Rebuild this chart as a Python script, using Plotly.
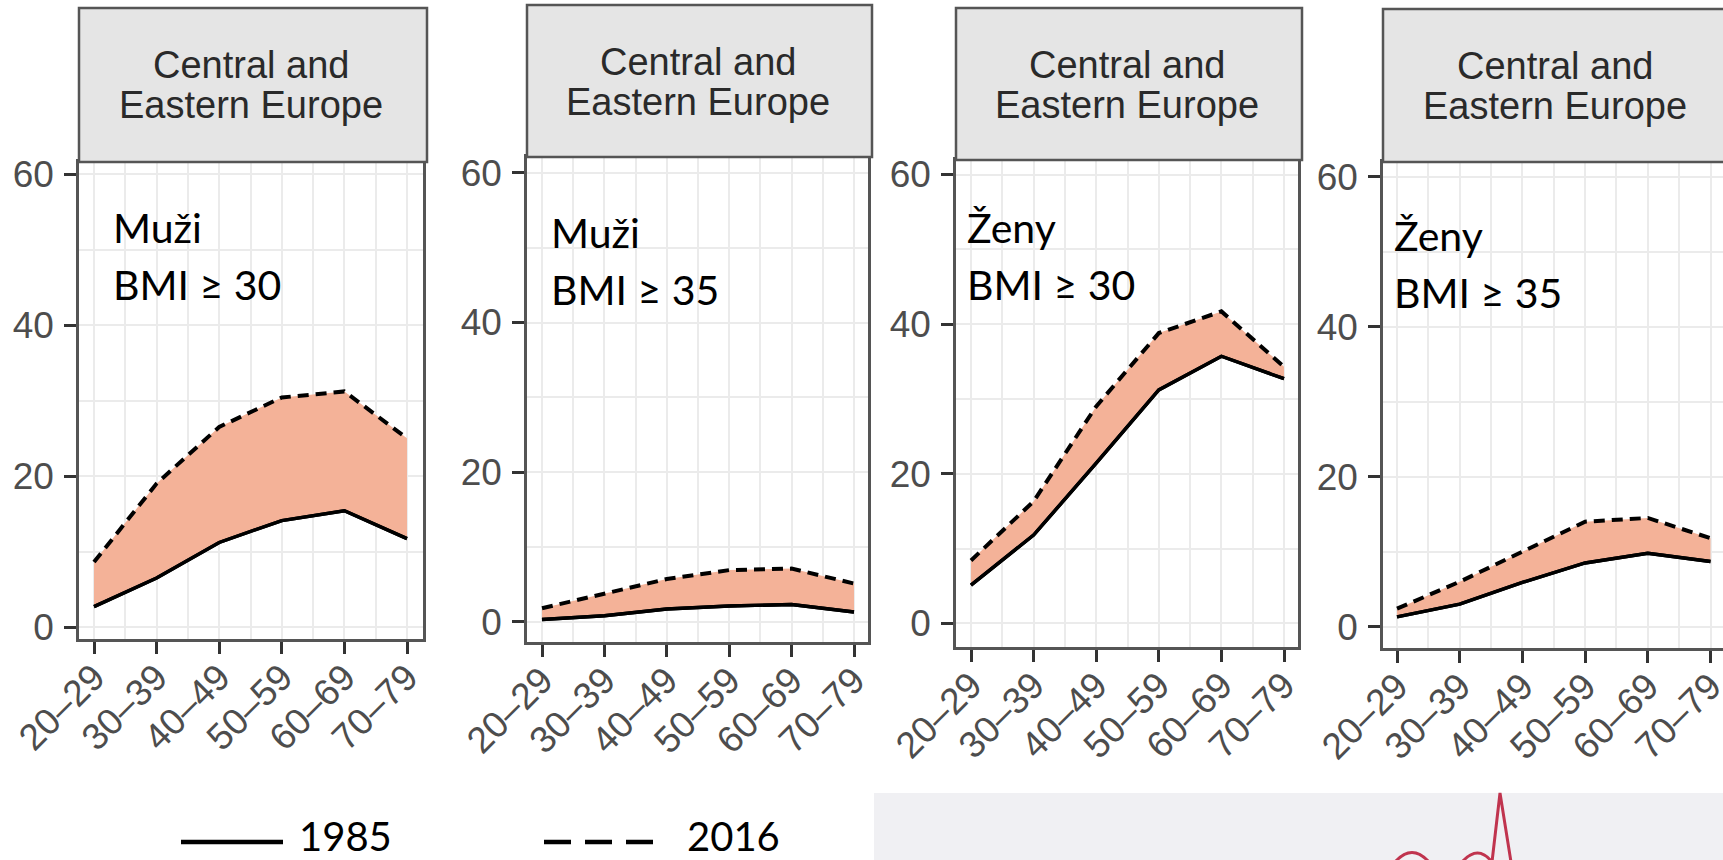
import plotly.graph_objects as go

# Age groups and obesity prevalence (%) in Central and Eastern Europe
age_groups = ["20–29", "30–39", "40–49", "50–59", "60–69", "70–79"]

men_bmi30_1985 = [2.7, 6.5, 11.2, 14.1, 15.4, 11.7]
men_bmi30_2016 = [8.6, 19.0, 26.5, 30.4, 31.2, 25.0]

men_bmi35_1985 = [0.3, 0.8, 1.7, 2.1, 2.3, 1.3]
men_bmi35_2016 = [1.8, 3.8, 5.7, 6.9, 7.1, 5.1]

women_bmi30_1985 = [5.1, 11.8, 21.4, 31.2, 35.7, 32.7]
women_bmi30_2016 = [8.4, 16.3, 29.0, 38.8, 41.7, 34.3]

women_bmi35_1985 = [1.3, 3.0, 5.9, 8.5, 9.8, 8.7]
women_bmi35_2016 = [2.4, 6.0, 10.0, 14.0, 14.5, 11.8]

strip_title = ["Central and", "Eastern Europe"]
panel_labels = [("Muži", "BMI ≥ 30"), ("Muži", "BMI ≥ 35"),
                ("Ženy", "BMI ≥ 30"), ("Ženy", "BMI ≥ 35")]
y_ticks = [0, 20, 40, 60]
legend_years = ["1985", "2016"]

series = [
    (men_bmi30_1985, men_bmi30_2016),
    (men_bmi35_1985, men_bmi35_2016),
    (women_bmi30_1985, women_bmi30_2016),
    (women_bmi35_1985, women_bmi35_2016),
]

W, H = 1723, 860

# Panel geometry in pixels: plot left/right, strip top, plot top/bottom,
# x pixel of first category, px per category, y pixel of 0, px per unit
panels = [
    dict(l=79, r=423, st=8, t=162, b=639, x0=94.0, dx=62.6, y0=627.0, dy=7.55),
    dict(l=527, r=868, st=5, t=157, b=642, x0=542.0, dx=62.4, y0=621.7, dy=7.48),
    dict(l=956, r=1298, st=8, t=160, b=647, x0=971.0, dx=62.6, y0=623.3, dy=7.48),
    dict(l=1383, r=1723, st=9, t=162, b=648, x0=1397.0, dx=62.7, y0=626.7, dy=7.5),
]
text_pos = [  # left x, baseline of first and second line
    (113, 241, 298),
    (551, 245, 303),
    (967, 241, 297),
    (1394, 248, 305),
]

FILL = "#f4b298"
BORDER = "#555555"
GRID = "#ebebeb"
TICKTXT = "#4d4d4d"


def px(x):
    return x / W


def py(y):
    return 1 - y / H


fig = go.Figure()
shapes = []
annotations = []
x_idx = list(range(len(age_groups)))

for i, (p, (s85, s16)) in enumerate(zip(panels, series)):
    n = "" if i == 0 else str(i + 1)
    xa, ya = "x" + n, "y" + n
    fig.add_trace(go.Scatter(x=x_idx, y=s85, mode="lines", xaxis=xa, yaxis=ya,
                             line=dict(color="black", width=3.4), showlegend=False,
                             hoverinfo="skip"))
    fig.add_trace(go.Scatter(x=x_idx, y=s16, mode="lines", xaxis=xa, yaxis=ya,
                             fill="tonexty", fillcolor=FILL,
                             line=dict(color="black", width=4, dash="11px,7px"),
                             showlegend=False, hoverinfo="skip"))
    # redraw solid line on top of the ribbon
    fig.add_trace(go.Scatter(x=x_idx, y=s85, mode="lines", xaxis=xa, yaxis=ya,
                             line=dict(color="black", width=3.4), showlegend=False,
                             hoverinfo="skip"))

    xr = [(p["l"] - p["x0"]) / p["dx"], (p["r"] - p["x0"]) / p["dx"]]
    yr = [(p["y0"] - p["b"]) / p["dy"], (p["y0"] - p["t"]) / p["dy"]]
    common = dict(showline=True, mirror=True, linecolor=BORDER, linewidth=2.5,
                  ticks="outside", ticklen=12, tickwidth=2.5, tickcolor="#333333",
                  showgrid=True, gridcolor=GRID, gridwidth=2, zeroline=False,
                  automargin=False, ticklabeloverflow="allow",
                  tickfont=dict(family="Liberation Sans, Arial", size=37, color=TICKTXT))
    fig.layout["xaxis" + n] = dict(
        domain=[px(p["l"]), min(px(p["r"]), 1.0)], range=xr, anchor=ya,
        tickmode="array", tickvals=x_idx, ticktext=age_groups, tickangle=-45,
        ticklabelstandoff=-13,
        minor=dict(tickvals=[k + 0.5 for k in x_idx], showgrid=True,
                   gridcolor=GRID, gridwidth=1.5, ticks=""),
        **common)
    fig.layout["yaxis" + n] = dict(
        domain=[py(p["b"]), py(p["t"])], range=yr, anchor=xa,
        tickmode="array", tickvals=y_ticks, ticklabelstandoff=3,
        minor=dict(dtick=10, showgrid=True, gridcolor=GRID, gridwidth=1.5, ticks=""),
        **common)

    # facet strip
    shapes.append(dict(type="rect", xref="paper", yref="paper",
                       x0=px(p["l"]), x1=px(p["r"] + 4), y0=py(p["t"]), y1=py(p["st"]),
                       fillcolor="#e5e5e5", line=dict(color=BORDER, width=2.5)))
    cx = (p["l"] + (p["r"] if i < 3 else 1726)) / 2
    for k, (line, base) in enumerate(zip(strip_title, (p["st"] + 69, p["st"] + 109))):
        annotations.append(dict(text=line, xref="paper", yref="paper",
                                x=px(cx), y=py(base - 12), xanchor="center", yanchor="middle",
                                showarrow=False,
                                font=dict(family="Liberation Sans, Arial", size=38,
                                          color="#2a2a2a")))
    # panel label
    lx, b1, b2 = text_pos[i]
    for line, base in zip(panel_labels[i], (b1, b2)):
        annotations.append(dict(text=line, xref="paper", yref="paper",
                                x=px(lx - 2), y=py(base - 13), xanchor="left",
                                yanchor="middle", showarrow=False,
                                font=dict(family="Lato", size=41, color="black")))

# background decoration at bottom right
shapes.append(dict(type="rect", xref="paper", yref="paper", layer="below",
                   x0=px(874), x1=1, y0=0, y1=py(793),
                   fillcolor="#f0f0f3", line=dict(width=0)))
shapes.append(dict(type="path", xref="paper", yref="paper",
                   path="M {0},{1} Q {2},{3} {4},{1} L {5},{1} Q {6},{7} {8},{1} "
                        "L {9},{10} L {11},{1}".format(
                            px(1395), py(862), px(1412), py(843), px(1429),
                            px(1462), px(1478), py(844), px(1492),
                            px(1500), py(793), px(1511)),
                   line=dict(color="#c0344e", width=3)))

# legend
shapes.append(dict(type="line", xref="paper", yref="paper",
                   x0=px(181), x1=px(283), y0=py(842), y1=py(842),
                   line=dict(color="black", width=4.5)))
shapes.append(dict(type="line", xref="paper", yref="paper",
                   x0=px(544), x1=px(654), y0=py(842), y1=py(842),
                   line=dict(color="black", width=4.5, dash="27px,14px")))
for txt, lx in zip(legend_years, (299, 687)):
    annotations.append(dict(text=txt, xref="paper", yref="paper",
                            x=px(lx - 2), y=py(836), xanchor="left", yanchor="middle",
                            showarrow=False,
                            font=dict(family="Lato", size=40, color="black")))

fig.update_layout(width=W, height=H, margin=dict(l=0, r=0, t=0, b=0),
                  paper_bgcolor="white", plot_bgcolor="white",
                  shapes=shapes, annotations=annotations, showlegend=False)

fig.write_html("out.html")
